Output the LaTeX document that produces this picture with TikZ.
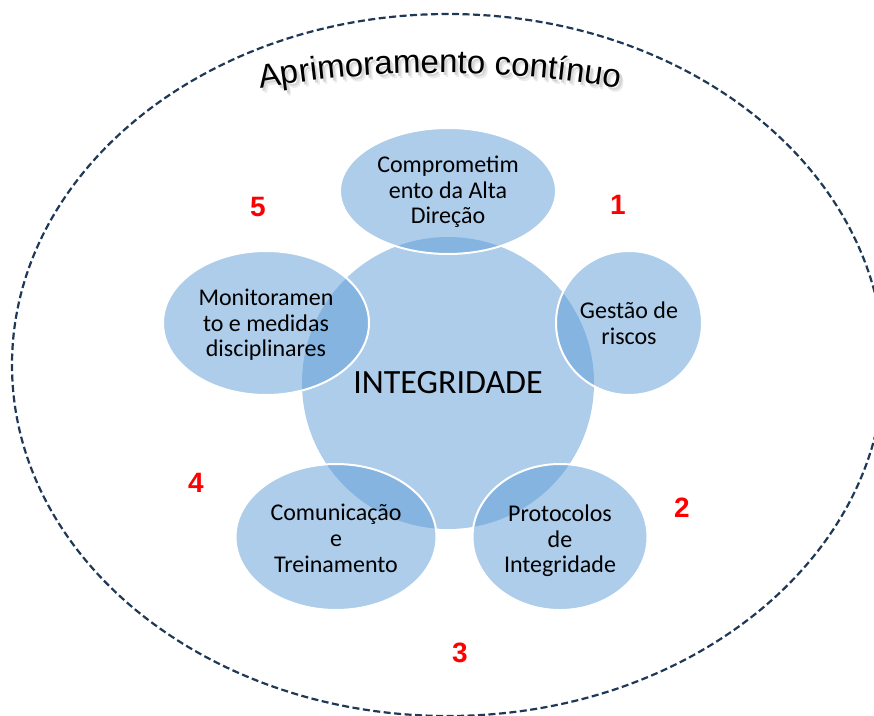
\documentclass[tikz,border=0pt]{standalone}
\usepackage{fontspec}
\setmainfont{Carlito}
\newfontfamily\arialfont{Liberation Sans}
\usetikzlibrary{shapes.geometric,decorations.text}
\definecolor{accentblue}{RGB}{91,155,213}
\definecolor{dashnavy}{RGB}{31,56,86}
\definecolor{numred}{RGB}{255,0,0}
\newcommand{\titlefmt}{\arialfont\fontsize{33}{40}\selectfont}
\newcommand{\toprule}[1]{\rule{0pt}{#1pt}}
\tikzset{
  outerline/.style={draw=dashnavy, line width=2.2pt, dash pattern=on 7pt off 3.5pt},
  hub/.style={circle, fill=accentblue, fill opacity=0.5, text opacity=1, inner sep=0pt,
    minimum size=292pt, font=\fontsize{34}{40}\selectfont},
  sat/.style={ellipse, draw=white, line width=2pt, fill=accentblue, fill opacity=0.5,
    text opacity=1, inner sep=0pt, align=center, font=\fontsize{24}{25.8}\selectfont},
  num/.style={text=numred, inner sep=0pt, font=\arialfont\bfseries\fontsize{28}{30}\selectfont}
}
\begin{document}
\begin{tikzpicture}[x=1pt,y=1pt]
\useasboundingbox (0,0) rectangle (874,-715);
% outer dashed ellipse
\draw[outerline] (448,-365) ellipse [x radius=436, y radius=351];
% title with soft shadow
\path[decorate, decoration={text along path, text align=center,
  text={|\titlefmt\color{black!8}|Aprimoramento contínuo}}]
  (249,-96) .. controls (379,-72) and (509,-72) .. (639,-96);
\path[decorate, decoration={text along path, text align=center,
  text={|\titlefmt\color{black!16}|Aprimoramento contínuo}}]
  (247.5,-94) .. controls (377.5,-70) and (507.5,-70) .. (637.5,-94);
\path[decorate, decoration={text along path, text align=center,
  text={|\titlefmt\color{black}|Aprimoramento contínuo}}]
  (245,-91) .. controls (375,-67) and (505,-67) .. (635,-91);
% hub
\node[hub] (hub) at (448,-383) {INTEGRIDADE};
% satellites
\node[sat, minimum width=216pt, minimum height=126pt] (s1) at (448,-191) {\toprule{22}Comprometim\\ento da Alta\\Direção\strut};
\node[sat, minimum width=146pt, minimum height=144pt] (s2) at (629,-323) {\toprule{24}Gestão de\\riscos\strut};
\node[sat, minimum width=175pt, minimum height=146pt] (s3) at (560,-537) {\toprule{28}Protocolos\\de\\Integridade\strut};
\node[sat, minimum width=201pt, minimum height=146pt] (s4) at (336,-537) {\toprule{27}Comunicação\\e\\Treinamento\strut};
\node[sat, minimum width=206pt, minimum height=144pt] (s5) at (266,-323) {\toprule{24}Monitoramen\\to e medidas\\disciplinares\strut};
% numbers
\node[num] (n1) at (618,-205) {1};
\node[num] (n2) at (682,-508) {2};
\node[num] (n3) at (460,-653) {3};
\node[num] (n4) at (196,-483) {4};
\node[num] (n5) at (258,-207) {5};
\end{tikzpicture}
\end{document}
